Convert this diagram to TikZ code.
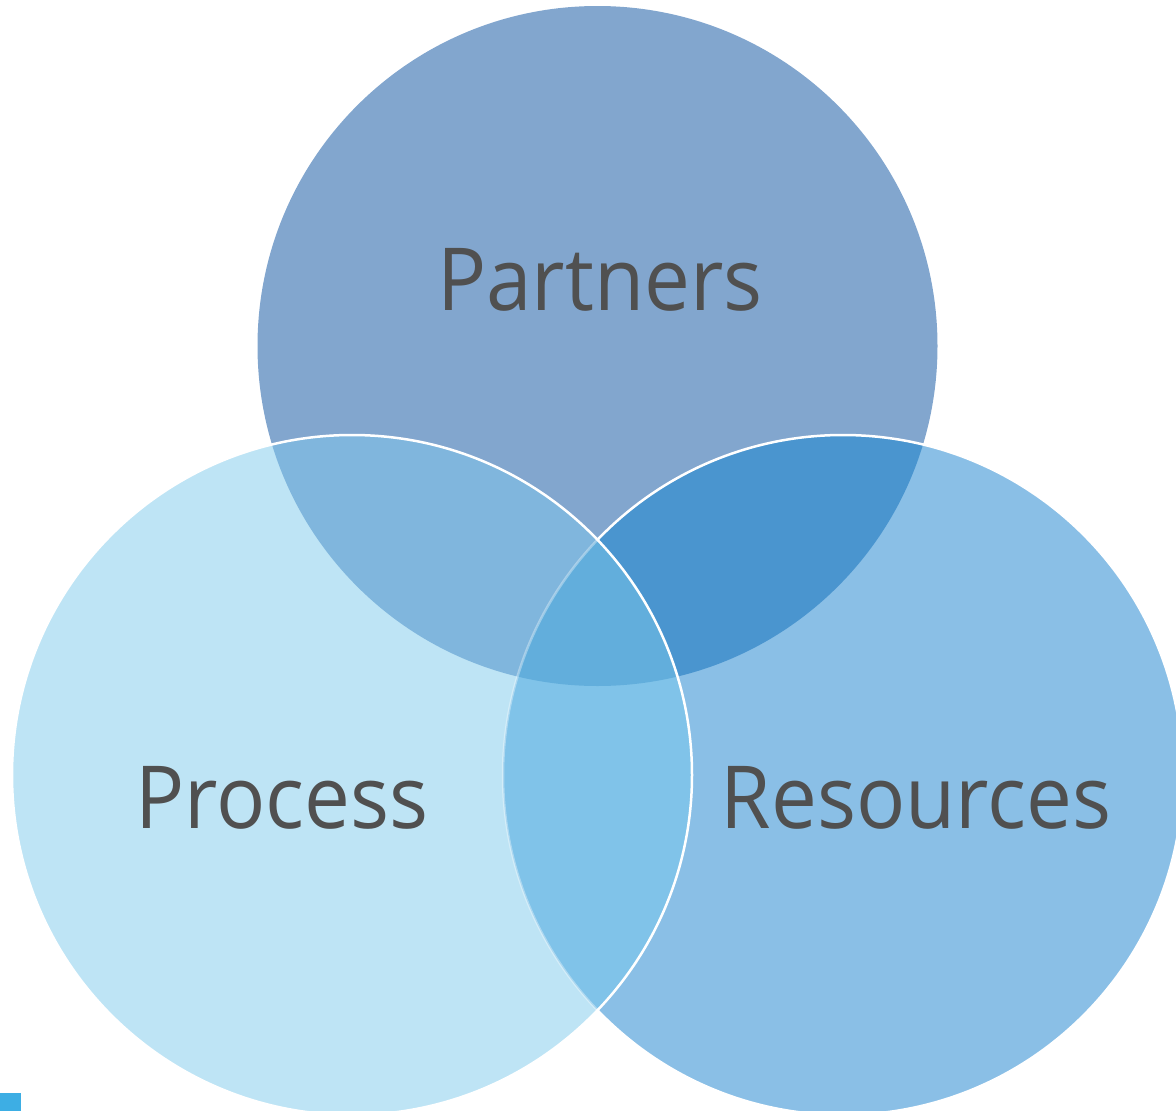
\documentclass[tikz,border=0pt]{standalone}
\usepackage{fontspec}
\newfontfamily\lblfont[FakeStretch=0.94]{Open Sans}
\definecolor{cTop}{HTML}{82A6CE}
\definecolor{cRight}{HTML}{8ABFE6}
\definecolor{cLeft}{HTML}{BEE4F5}
\definecolor{cTR}{HTML}{4A95CF}
\definecolor{cTL}{HTML}{80B6DD}
\definecolor{cLR}{HTML}{80C3E9}
\definecolor{cC}{HTML}{62AEDC}
\definecolor{cText}{HTML}{505050}
\definecolor{cSq}{HTML}{3DAEE4}
\begin{document}
\begin{tikzpicture}[x=1pt,y=-1pt,
  lbl/.style={text=cText, font=\lblfont\fontsize{87}{100}\selectfont, inner sep=0pt, anchor=base},
  edge/.style={white, line width=2.5pt}]
\useasboundingbox (0,0) rectangle (1176,1111);
\clip (0,0) rectangle (1176,1111);
\coordinate (ct) at (597.5,346);
\coordinate (cl) at (352,775);
\coordinate (cr) at (843,775);
\def\R{340}
\fill[cTop] (ct) circle[radius=\R];
\fill[cRight] (cr) circle[radius=\R];
\begin{scope}
  \clip (ct) circle[radius=\R];
  \fill[cTR] (cr) circle[radius=\R];
\end{scope}
\draw[edge] (cr) circle[radius=\R];
\fill[cLeft] (cl) circle[radius=\R];
\begin{scope}
  \clip (cl) circle[radius=\R];
  \fill[cTL] (ct) circle[radius=\R];
  \fill[cLR] (cr) circle[radius=\R];
  \begin{scope}
    \clip (ct) circle[radius=\R];
    \fill[cC] (cr) circle[radius=\R];
  \end{scope}
  \draw[edge, opacity=0.35] (cr) circle[radius=\R];
\end{scope}
\draw[edge] (cl) circle[radius=\R];
\node[lbl] (partners) at (600,310) {Partners};
\node[lbl] (process) at (282,828) {Process};
\node[lbl] (resources) at (916,828) {Resources};
\fill[cSq] (0,1093) rectangle (21,1111);
\end{tikzpicture}
\end{document}
